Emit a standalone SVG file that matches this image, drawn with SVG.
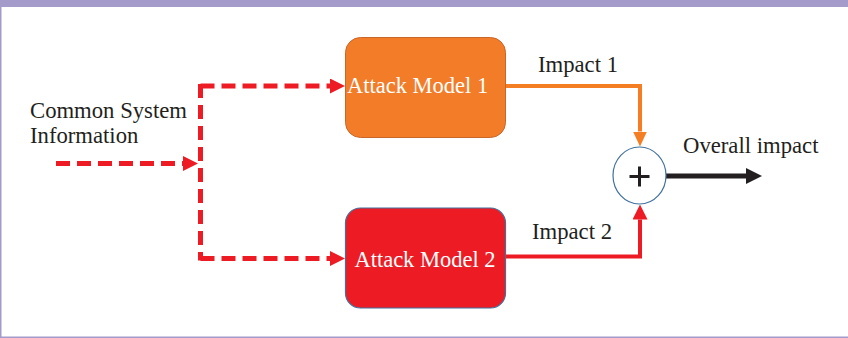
<svg xmlns="http://www.w3.org/2000/svg" width="848" height="338" viewBox="0 0 848 338">
  <defs>
    <style>
      .lbl { font-family: "Liberation Serif", "Times New Roman", serif; font-size: 22.7px; fill: #231F20; }
      .wlbl { font-family: "Liberation Serif", "Times New Roman", serif; font-size: 22.5px; fill: #FFFFFF; }
      .dash { fill: none; stroke: #ED1C24; stroke-width: 5; stroke-dasharray: 14 7; }
    </style>
    <marker id="mRed" markerUnits="userSpaceOnUse" viewBox="0 0 15 15" markerWidth="15" markerHeight="15" refX="0" refY="7.5" orient="auto">
      <path d="M0,0 L15,7.5 L0,15 z" fill="#ED1C24"/>
    </marker>
    <marker id="mOrange" markerUnits="userSpaceOnUse" viewBox="0 0 15 14" markerWidth="15" markerHeight="14" refX="0" refY="7" orient="auto">
      <path d="M0,0 L15,7 L0,14 z" fill="#F47E24"/>
    </marker>
    <marker id="mBlack" markerUnits="userSpaceOnUse" viewBox="0 0 16 16" markerWidth="16" markerHeight="16" refX="0" refY="8" orient="auto">
      <path d="M0,0 L16,8 L0,16 z" fill="#231F20"/>
    </marker>
  </defs>

  <!-- frame -->
  <rect x="0" y="0" width="848" height="338" fill="#FFFFFF"/>
  <rect x="0" y="0" width="848" height="7" fill="#A49BCB"/>
  <rect x="0" y="0" width="1.5" height="338" fill="#A49BCB"/>
  <rect x="0" y="336.5" width="848" height="1.5" fill="#A49BCB"/>

  <g id="connectors">
    <path class="dash" d="M56,163.5 H183" marker-end="url(#mRed)"/>
    <path class="dash" d="M200.5,84 V260.5"/>
    <path class="dash" d="M200.5,86 H330" marker-end="url(#mRed)"/>
    <path class="dash" d="M200.5,258.5 H330" marker-end="url(#mRed)"/>
    <path d="M505.5,86 H640 V131.5" fill="none" stroke="#F47E24" stroke-width="4" marker-end="url(#mOrange)"/>
    <path d="M505.5,256.5 H640 V219.5" fill="none" stroke="#ED1C24" stroke-width="4" marker-end="url(#mRed)"/>
    <path d="M666,176 H746" fill="none" stroke="#231F20" stroke-width="5" marker-end="url(#mBlack)"/>
  </g>

  <g id="input-label">
    <text class="lbl" x="30" y="118">Common System</text>
    <text class="lbl" x="30" y="143">Information</text>
  </g>

  <g id="attack-model-1">
    <rect x="345.5" y="37.5" width="160" height="100" rx="15" ry="15" fill="#F37C28" stroke="#C9672A" stroke-width="1"/>
    <text class="wlbl" x="347" y="93">Attack Model 1</text>
  </g>

  <g id="attack-model-2">
    <rect x="345.5" y="208" width="160" height="100" rx="15" ry="15" fill="#ED1C24" stroke="#41719C" stroke-width="1.2"/>
    <text class="wlbl" x="425" y="266.5" text-anchor="middle">Attack Model 2</text>
  </g>

  <g id="sum">
    <ellipse cx="639.5" cy="175.5" rx="26.5" ry="28.5" fill="#FFFFFF" stroke="#41719C" stroke-width="1.2"/>
    <path d="M629.5,176.5 H649.5 M639.5,166.5 V186.5" stroke="#231F20" stroke-width="3"/>
  </g>

  <g id="labels">
    <text class="lbl" x="538" y="72">Impact 1</text>
    <text class="lbl" x="532" y="239">Impact 2</text>
    <text class="lbl" x="683" y="153">Overall impact</text>
  </g>
</svg>
